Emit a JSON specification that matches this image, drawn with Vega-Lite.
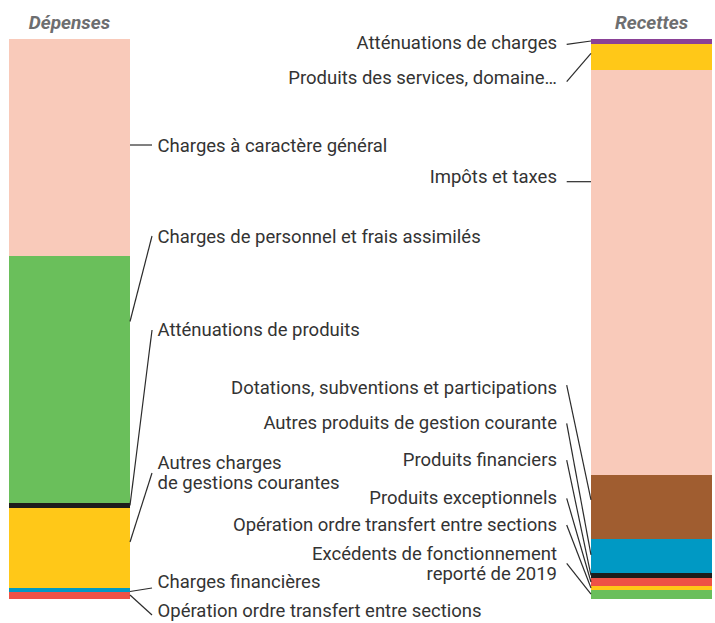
{
  "$schema": "https://vega.github.io/schema/vega-lite/v6.json",
  "width": 715,
  "height": 623,
  "autosize": {"type": "none"},
  "padding": 0,
  "background": "white",
  "config": {
    "view": {"stroke": null},
    "text": {"font": "Roboto, sans-serif"}
  },
  "datasets": {
    "postes": [
      {"side": "Dépenses", "id": "D1", "ord": 1, "poste": "Opération ordre transfert entre sections", "pct": 1.25, "ly": -2.14, "ls": -2.86, "le": 0.71},
      {"side": "Dépenses", "id": "D2", "ord": 2, "poste": "Charges financières", "pct": 0.71, "ly": 2.95, "ls": 1.96, "le": 1.34},
      {"side": "Dépenses", "id": "D3", "ord": 3, "poste": "Autres charges\nde gestions courantes", "pct": 14.29, "ly": 24.29, "ls": 22.5, "le": 10.18},
      {"side": "Dépenses", "id": "D4", "ord": 4, "poste": "Atténuations de produits", "pct": 0.89, "ly": 48.04, "ls": 48.04, "le": 16.7},
      {"side": "Dépenses", "id": "D5", "ord": 5, "poste": "Charges de personnel et frais assimilés", "pct": 44.11, "ly": 64.64, "ls": 64.82, "le": 49.55},
      {"side": "Dépenses", "id": "D6", "ord": 6, "poste": "Charges à caractère général", "pct": 38.75, "ly": 80.89, "ls": 81.07, "le": 81.07},
      {"side": "Recettes", "id": "R1", "ord": 1, "poste": "Excédents de fonctionnement\nreporté de 2019", "pct": 1.61, "ly": 8.04, "ls": 6.38, "le": 0.89},
      {"side": "Recettes", "id": "R2", "ord": 2, "poste": "Opération ordre transfert entre sections", "pct": 0.71, "ly": 13.21, "ls": 13.21, "le": 1.96},
      {"side": "Recettes", "id": "R3", "ord": 3, "poste": "Produits exceptionnels", "pct": 1.43, "ly": 18.04, "ls": 17.98, "le": 3.04},
      {"side": "Recettes", "id": "R4", "ord": 4, "poste": "Produits financiers", "pct": 0.89, "ly": 24.82, "ls": 24.82, "le": 4.2},
      {"side": "Recettes", "id": "R5", "ord": 5, "poste": "Autres produits de gestion courante", "pct": 6.07, "ly": 31.43, "ls": 31.38, "le": 7.86},
      {"side": "Recettes", "id": "R6", "ord": 6, "poste": "Dotations, subventions et participations", "pct": 11.43, "ly": 37.68, "ls": 38.21, "le": 17.68},
      {"side": "Recettes", "id": "R7", "ord": 7, "poste": "Impôts et taxes", "pct": 72.32, "ly": 75.36, "ls": 74.52, "le": 74.52},
      {"side": "Recettes", "id": "R8", "ord": 8, "poste": "Produits des services, domaine…", "pct": 4.64, "ly": 93.04, "ls": 92.38, "le": 97.45},
      {"side": "Recettes", "id": "R9", "ord": 9, "poste": "Atténuations de charges", "pct": 0.89, "ly": 99.29, "ls": 99.05, "le": 99.64}
    ],
    "titres": [{"side": "Dépenses"}, {"side": "Recettes"}]
  },
  "data": {"name": "postes"},
  "layer": [
    {
      "transform": [
        {"filter": "datum.side === 'Dépenses'"},
        {"stack": "pct", "groupby": ["side"], "sort": [{"field": "ord", "order": "ascending"}], "as": ["v0", "v1"]}
      ],
      "mark": {"type": "bar", "strokeWidth": 0},
      "encoding": {
        "x": {"datum": 1.259, "type": "quantitative", "scale": {"domain": [0, 100], "nice": false, "zero": false}, "axis": null},
        "x2": {"datum": 18.182},
        "y": {"field": "v0", "type": "quantitative", "scale": {"domain": [-4.286, 106.964], "nice": false, "zero": false}, "axis": null},
        "y2": {"field": "v1"},
        "color": {
          "field": "id", "type": "nominal", "legend": null,
          "scale": {
            "domain": ["D1", "D2", "D3", "D4", "D5", "D6", "R1", "R2", "R3", "R4", "R5", "R6", "R7", "R8", "R9"],
            "range": ["#EE5246", "#0099C4", "#FFC818", "#1D1D1B", "#6ABF5B", "#F9CABA", "#6ABF5B", "#FFC818", "#EE5246", "#1D1D1B", "#0099C4", "#A05D30", "#F9CABA", "#FFC818", "#8A4197"]
          }
        }
      }
    },
    {
      "transform": [
        {"filter": "datum.side === 'Recettes'"},
        {"stack": "pct", "groupby": ["side"], "sort": [{"field": "ord", "order": "ascending"}], "as": ["v0", "v1"]}
      ],
      "mark": {"type": "bar", "strokeWidth": 0},
      "encoding": {
        "x": {"datum": 82.657, "type": "quantitative"},
        "x2": {"datum": 99.58},
        "y": {"field": "v0", "type": "quantitative"},
        "y2": {"field": "v1"},
        "color": {"field": "id", "type": "nominal", "legend": null}
      }
    },
    {
      "transform": [{"filter": "datum.side === 'Dépenses'"}],
      "mark": {"type": "rule", "stroke": "#2b2b2b", "strokeWidth": 1.2},
      "encoding": {
        "x": {"datum": 21.26, "type": "quantitative"},
        "x2": {"datum": 18.182},
        "y": {"field": "ls", "type": "quantitative"},
        "y2": {"field": "le"}
      }
    },
    {
      "transform": [{"filter": "datum.side === 'Recettes'"}],
      "mark": {"type": "rule", "stroke": "#2b2b2b", "strokeWidth": 1.2},
      "encoding": {
        "x": {"datum": 79.26, "type": "quantitative"},
        "x2": {"datum": 82.657},
        "y": {"field": "ls", "type": "quantitative"},
        "y2": {"field": "le"}
      }
    },
    {
      "transform": [{"filter": "datum.side === 'Dépenses'"}],
      "mark": {"type": "text", "align": "left", "baseline": "middle", "fontSize": 18.5, "color": "#333333", "lineBreak": "\n", "lineHeight": 20.5},
      "encoding": {
        "x": {"datum": 22.03, "type": "quantitative"},
        "y": {"field": "ly", "type": "quantitative"},
        "text": {"field": "poste", "type": "nominal"}
      }
    },
    {
      "transform": [{"filter": "datum.side === 'Recettes'"}],
      "mark": {"type": "text", "align": "right", "baseline": "middle", "fontSize": 18.5, "color": "#333333", "lineBreak": "\n", "lineHeight": 20.5},
      "encoding": {
        "x": {"datum": 77.9, "type": "quantitative"},
        "y": {"field": "ly", "type": "quantitative"},
        "text": {"field": "poste", "type": "nominal"}
      }
    },
    {
      "data": {"name": "titres"},
      "transform": [{"filter": "datum.side === 'Dépenses'"}],
      "mark": {"type": "text", "align": "center", "baseline": "middle", "fontSize": 19, "fontStyle": "italic", "fontWeight": "bold", "color": "#6D6E70"},
      "encoding": {
        "x": {"datum": 9.72, "type": "quantitative"},
        "y": {"datum": 102.77, "type": "quantitative"},
        "text": {"field": "side", "type": "nominal"}
      }
    },
    {
      "data": {"name": "titres"},
      "transform": [{"filter": "datum.side === 'Recettes'"}],
      "mark": {"type": "text", "align": "center", "baseline": "middle", "fontSize": 19, "fontStyle": "italic", "fontWeight": "bold", "color": "#6D6E70"},
      "encoding": {
        "x": {"datum": 91.12, "type": "quantitative"},
        "y": {"datum": 102.77, "type": "quantitative"},
        "text": {"field": "side", "type": "nominal"}
      }
    }
  ]
}
